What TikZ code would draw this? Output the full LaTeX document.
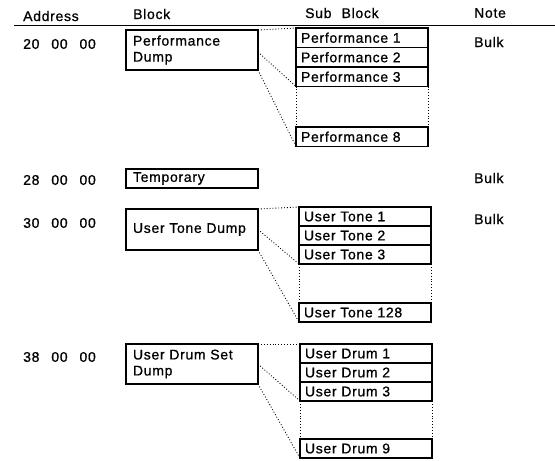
\documentclass[tikz,border=0pt]{standalone}
\usepackage{fontspec}
\setmainfont{Liberation Sans}[WordSpace=2.2,LetterSpace=5,FakeBold=0.8]
\usetikzlibrary{calc}
\newcommand\adsp{\hspace{0.85em}}
\begin{document}
\begin{tikzpicture}[x=1pt,y=-1pt,
  font=\fontsize{14}{16}\selectfont,
  lbl/.style={anchor=west,inner sep=0pt},
  blockbox/.style={draw,line width=1.4pt,rectangle,anchor=north west,outer sep=0pt,
    minimum width=132pt,minimum height=40pt,text width=118pt,inner xsep=7pt,inner ysep=0pt,align=left},
  subbox/.style={draw,line width=1.4pt,rectangle,anchor=north west,outer sep=0pt,
    minimum width=132pt,minimum height=19.5pt,text width=122pt,inner xsep=5pt,inner ysep=0pt,align=left},
  conn/.style={dotted,line width=0.9pt},
  gapside/.style={dotted,line width=0.9pt}]
\useasboundingbox (0,0) rectangle (555,461);
% header
\node[lbl] (hA) at (23,16) {Address};
\node[lbl] (hB) at (133,14) {Block};
\node[lbl] (hS) at (305,13) {Sub Block};
\node[lbl] (hN) at (474,13) {Note};
\coordinate (rl) at (14,25.5);
\coordinate (rr) at (555,25.5);
\draw[line width=1.4pt] (rl) -- (rr);

% section 1
\node[lbl] (a1) at (23,44) {20\adsp 00\adsp 00};
\node[lbl] (n1) at (474,42) {Bulk};
\node[blockbox] (b1) at (126,30) {Performance\\Dump};
\node[subbox] (p1) at (296,28) {Performance 1};
\node[subbox] (p2) at (p1.south west) {Performance 2};
\node[subbox] (p3) at (p2.south west) {Performance 3};
\node[subbox] (p8) at (296,127) {Performance 8};
\draw[gapside] (p3.south west) -- (p8.north west);
\draw[gapside] (p3.south east) -- (p8.north east);
\draw[conn] (b1.north east) -- (p1.north west);
\draw[conn] ($(b1.north east)!0.55!(b1.south east)$) -- (p3.south west);
\draw[conn] (b1.south east) -- (p8.south west);

% section 2
\node[lbl] (a2) at (23,180) {28\adsp 00\adsp 00};
\node[lbl] (n2) at (474,178) {Bulk};
\node[blockbox,minimum height=19pt] (b2) at (126,169) {Temporary};

% section 3
\node[lbl] (a3) at (23,223) {30\adsp 00\adsp 00};
\node[lbl] (n3) at (474,219) {Bulk};
\node[blockbox,minimum height=41pt] (b3) at (126,209) {User Tone Dump};
\node[subbox,minimum height=19pt] (t1) at (299,207) {User Tone 1};
\node[subbox,minimum height=19pt] (t2) at (t1.south west) {User Tone 2};
\node[subbox,minimum height=19pt] (t3) at (t2.south west) {User Tone 3};
\node[subbox,minimum height=19pt] (t128) at (299,303) {User Tone 128};
\draw[gapside] (t3.south west) -- (t128.north west);
\draw[gapside] (t3.south east) -- (t128.north east);
\draw[conn] (b3.north east) -- (t1.north west);
\draw[conn] ($(b3.north east)!0.5!(b3.south east)$) -- (t3.south west);
\draw[conn] (b3.south east) -- (t128.south west);

% section 4
\node[lbl] (a4) at (23,357) {38\adsp 00\adsp 00};
\node[blockbox] (b4) at (126,344) {User Drum Set\\Dump};
\node[subbox,minimum height=19pt] (d1) at (300,344) {User Drum 1};
\node[subbox,minimum height=19pt] (d2) at (d1.south west) {User Drum 2};
\node[subbox,minimum height=19pt] (d3) at (d2.south west) {User Drum 3};
\node[subbox,minimum height=19pt] (d9) at (300,439) {User Drum 9};
\draw[gapside] (d3.south west) -- (d9.north west);
\draw[gapside] (d3.south east) -- (d9.north east);
\draw[conn] (b4.north east) -- (d1.north west);
\draw[conn] ($(b4.north east)!0.5!(b4.south east)$) -- (d3.south west);
\draw[conn] (b4.south east) -- (d9.south west);
\end{tikzpicture}
\end{document}
